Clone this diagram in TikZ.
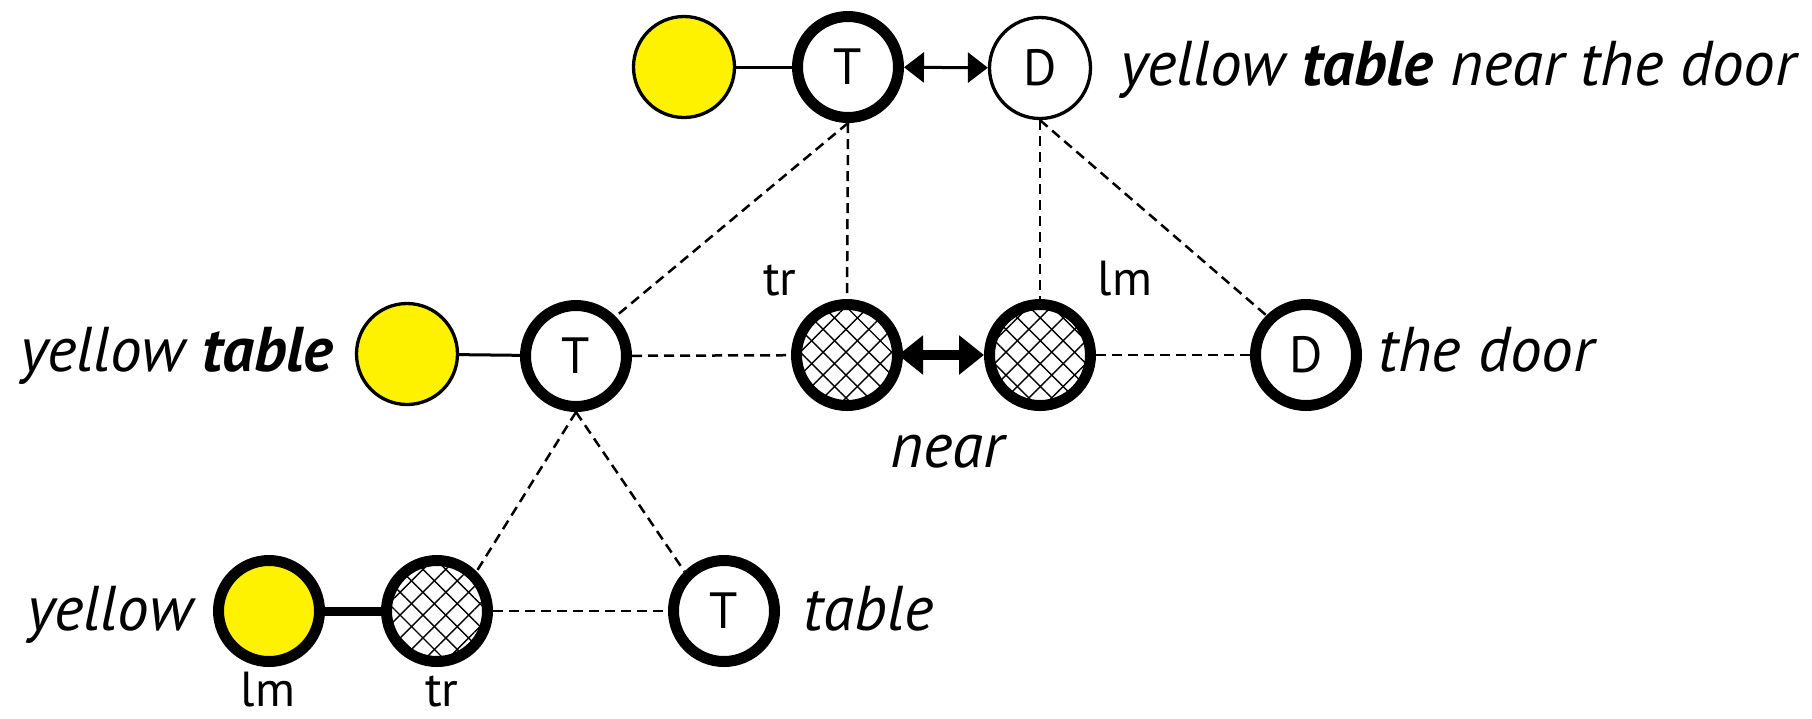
\documentclass[tikz,border=0pt]{standalone}
\usepackage{fontspec}
\setmainfont{PT Sans}
\usetikzlibrary{arrows.meta,patterns.meta}
\def\myball#1#2#3#4#5{
  % 1: name
  % 2: x
  % 3: y
  % 4: style
  % 5: letter
  \node[ball,#4] (#1) at (#2,#3) {#5};
}

\begin{document}
\begin{tikzpicture}[
    ball/.style={circle,draw,minimum size=1.01cm,inner sep=0pt,font=\fontsize{14.5}{16}\selectfont},
    thinring/.style={line width=0.033cm},
    thickring/.style={line width=0.11cm},
    lemon/.style={fill=yellow},
    hatched/.style={preaction={pattern={Lines[angle=45,distance=4.6pt,line width=0.4pt]}},
      pattern={Lines[angle=-45,distance=4.6pt,line width=0.4pt]}},
    rel/.style={dash pattern=on 0.1cm off 0.06cm,line width=0.025cm},
    link/.style={line width=0.03cm},
    words/.style={inner sep=0pt,font=\fontsize{18}{20}\selectfont\itshape},
    role/.style={inner sep=0pt,font=\fontsize{14}{16}\selectfont},
  ]
    \useasboundingbox (0,0) rectangle (18.12,-7.18);

    % \myball{name}{x}{y}{style}{letter}
    \myball{yT}{6.84}{-0.67}{thinring,lemon}{}
    \myball{T0}{8.48}{-0.67}{thickring}{T}
    \myball{D0}{10.40}{-0.68}{thinring}{D}

    \myball{yM}{4.07}{-3.54}{thinring,lemon}{}
    \myball{T1}{5.76}{-3.56}{thickring}{T}
    \myball{trH}{8.47}{-3.55}{thickring,hatched}{}
    \myball{lmH}{10.40}{-3.55}{thickring,hatched}{}
    \myball{D1}{13.06}{-3.55}{thickring}{D}

    \myball{yB}{2.69}{-6.11}{thickring,lemon}{}
    \myball{H2}{4.37}{-6.11}{thickring,hatched}{}
    \myball{T2}{7.24}{-6.11}{thickring}{T}

    \draw[link] (yT) -- (T0);
    \draw[link,{Triangle[length=0.2cm,width=0.3cm]}-{Triangle[length=0.2cm,width=0.3cm]}] (T0) -- (D0);
    \draw[rel] (T0.south) -- (T1.north east);
    \draw[rel] (T0.south) -- (trH.north);
    \draw[rel] (D0.south) -- (lmH.north);
    \draw[rel] (D0.south) -- (D1.north west);

    \draw[link] (yM) -- (T1);
    \draw[rel] (T1) -- (trH);
    \draw[line width=0.1cm,{Triangle[length=0.25cm,width=0.38cm]}-{Triangle[length=0.25cm,width=0.38cm]}] (trH) -- (lmH);
    \draw[rel] (lmH) -- (D1);
    \draw[rel] (T1.south) -- (H2.north east);
    \draw[rel] (T1.south) -- (T2.north west);

    \draw[line width=0.09cm] (yB) -- (H2);
    \draw[rel] (H2) -- (T2);

    \node[words,anchor=base west] (sentence) at (11.20,-0.85) {yellow \textbf{table} near the door};
    \node[words,anchor=base east] (yellowTable) at (3.34,-3.71) {yellow \textbf{table}};
    \node[words,anchor=base west] (theDoor) at (13.78,-3.71) {the door};
    \node[words,anchor=base] (near) at (9.47,-4.67) {near};
    \node[words,anchor=base east] (yellow) at (1.93,-6.30) {yellow};
    \node[words,anchor=base west] (table) at (8.03,-6.30) {table};

    \node[role,anchor=base] (trTop) at (7.80,-2.95) {tr};
    \node[role,anchor=base] (lmTop) at (11.25,-2.95) {lm};
    \node[role,anchor=base] (lmBot) at (2.68,-7.06) {lm};
    \node[role,anchor=base] (trBot) at (4.42,-7.06) {tr};
\end{tikzpicture}
\end{document}
